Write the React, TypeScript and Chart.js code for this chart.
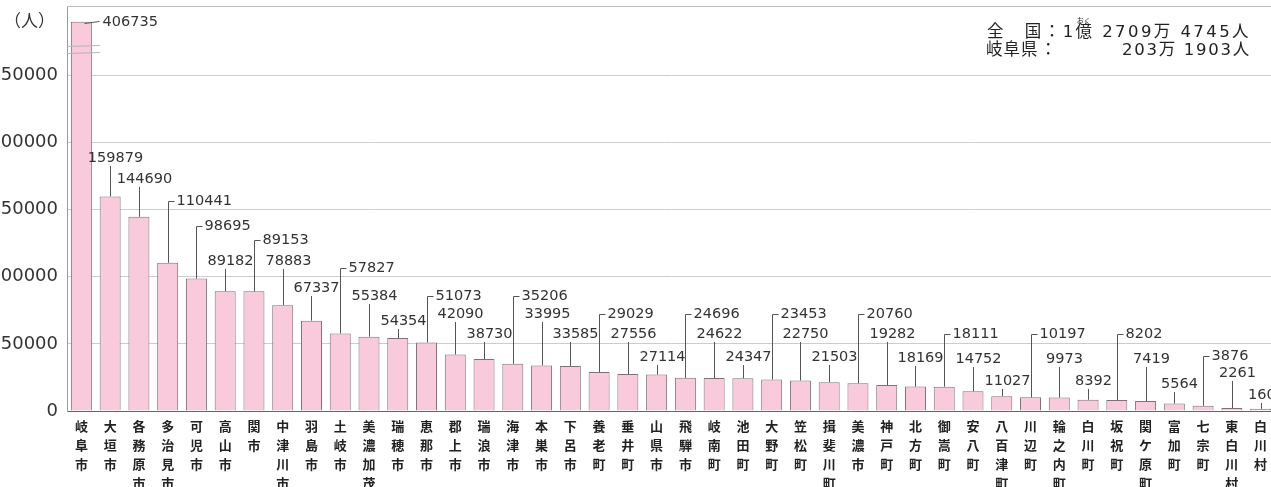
import React, { useEffect, useRef } from "react";
import { Chart, registerables } from "chart.js";

Chart.register(...registerables);

// ---------- data ----------
const MUNICIPALITIES = [
  "岐阜市", "大垣市", "各務原市", "多治見市", "可児市", "高山市", "関市", "中津川市", "羽島市", "土岐市",
  "美濃加茂市", "瑞穂市", "恵那市", "郡上市", "瑞浪市", "海津市", "本巣市", "下呂市", "養老町", "垂井町",
  "山県市", "飛騨市", "岐南町", "池田町", "大野町", "笠松町", "揖斐川町", "美濃市", "神戸町", "北方町",
  "御嵩町", "安八町", "八百津町", "川辺町", "輪之内町", "白川町", "坂祝町", "関ケ原町", "富加町", "七宗町",
  "東白川村", "白川村",
];
const POPULATION = [
  406735, 159879, 144690, 110441, 98695, 89182, 89153, 78883, 67337, 57827,
  55384, 54354, 51073, 42090, 38730, 35206, 33995, 33585, 29029, 27556,
  27114, 24696, 24622, 24347, 23453, 22750, 21503, 20760, 19282, 18169,
  18111, 14752, 11027, 10197, 9973, 8392, 8202, 7419, 5564, 3876,
  2261, 1609,
];
const Y_TICKS = [0, 50000, 100000, 150000, 200000, 250000];
const Y_UNIT = "（人）";
const NATION_LINE = "全　国：1億 2709万 4745人";
const NATION_RUBY = "おく";
const PREF_LABEL = "岐阜県";
const PREF_TOTAL = "203万 1903人";

// ---------- layout (not data) ----------
const AXIS_MAX = 301800;
const AXIS_BREAK = 290000; // bars taller than this are drawn cut (broken axis)
// level (in axis units) at which each value label sits
const LABEL_LEVEL = [
  290000, 188500, 172900, 156500, 137900, 111800, 127400, 111800, 91700, 106600,
  85700, 67100, 85700, 72300, 57400, 85700, 72300, 57400, 72300, 57400,
  40200, 72300, 57400, 40200, 72300, 57400, 40200, 72300, 57400, 39500,
  57400, 38700, 22400, 57400, 38700, 22400, 57400, 38700, 20100, 41000,
  28300, 11900,
];
// s = beside bar top, t = leader with tick, c = centered over leader
const LABEL_STYLE = ("scctt" + "ctcct" + "cctcc" + "tcctc" + "ctcct" + "cctcc" + "tcctc" + "ctcct" + "cc").split("");

const BAR_FILL = "rgb(249,201,220)";
const BAR_EDGE = "rgb(128,112,120)";
const NUM_FONT = '"DejaVu Sans", "Noto Sans CJK JP", sans-serif';
const CJK_FONT = '"Noto Sans CJK JP", sans-serif';

function fitText(ctx: any, text: string, x: number, width: number, y: number) {
  ctx.letterSpacing = "0px";
  const w = ctx.measureText(text).width;
  const n = Array.from(text).length;
  const ls = (width - w) / n;
  ctx.letterSpacing = `${ls}px`;
  ctx.textAlign = "left";
  ctx.fillText(text, x, y);
  ctx.letterSpacing = "0px";
  return ls;
}

const overlay = {
  id: "overlay",
  afterDraw(chart: any) {
    const ctx = chart.ctx as any;
    const area = chart.chartArea;
    const yS = chart.scales.y;
    const meta = chart.getDatasetMeta(0);
    ctx.save();

    // top frame line
    ctx.strokeStyle = "#bdbdbd";
    ctx.lineWidth = 1;
    ctx.beginPath();
    ctx.moveTo(area.left, Math.round(area.top) + 0.5);
    ctx.lineTo(area.right, Math.round(area.top) + 0.5);
    ctx.stroke();

    // broken-axis marks on bars that exceed the break
    POPULATION.forEach((v, i) => {
      if (v <= AXIS_BREAK) return;
      const bar = meta.data[i];
      const half = bar.width / 2;
      ctx.strokeStyle = "#b5b5b5";
      [272000, 267000].forEach((lv) => {
        const y = Math.round(yS.getPixelForValue(lv)) + 0.5;
        ctx.beginPath();
        ctx.moveTo(area.left, y);
        ctx.lineTo(bar.x + half + 8, y - 1);
        ctx.stroke();
      });
    });

    // value labels with leader lines
    ctx.font = `14.5px ${NUM_FONT}`;
    ctx.fillStyle = "#333";
    ctx.strokeStyle = "#555";
    ctx.textBaseline = "middle";
    meta.data.forEach((bar: any, i: number) => {
      const x = Math.round(bar.x) + 0.5;
      const top = bar.y;
      const text = String(POPULATION[i]);
      const st = LABEL_STYLE[i];
      const ly = yS.getPixelForValue(LABEL_LEVEL[i]);
      ctx.beginPath();
      if (st === "s") {
        const yy = Math.round(top) + 0.5;
        ctx.moveTo(x + 3, yy + 1);
        ctx.lineTo(x + 18, yy - 1);
        ctx.stroke();
        ctx.textAlign = "left";
        ctx.fillText(text, x + 21, top);
      } else if (st === "t") {
        const yy = Math.round(ly) + 0.5;
        ctx.moveTo(x, top);
        ctx.lineTo(x, yy);
        ctx.lineTo(x + 6, yy);
        ctx.stroke();
        ctx.textAlign = "left";
        ctx.fillText(text, x + 8, ly);
      } else {
        ctx.moveTo(x, top);
        ctx.lineTo(x, ly + 8);
        ctx.stroke();
        ctx.textAlign = "center";
        ctx.fillText(text, x + 5, ly);
      }
    });

    // unit
    ctx.textAlign = "left";
    ctx.fillStyle = "#333";
    ctx.font = `17px ${CJK_FONT}`;
    ctx.fillText(Y_UNIT, 4, 21);

    // totals box
    ctx.fillStyle = "#222";
    ctx.font = `16.5px ${NUM_FONT}`;
    const ls = fitText(ctx, NATION_LINE, 987, 264, 33);
    // ruby over 億
    const chars = Array.from(NATION_LINE);
    const okuIdx = chars.indexOf("億");
    const pre = chars.slice(0, okuIdx).join("");
    const okuX = 987 + ctx.measureText(pre).width + okuIdx * ls + ctx.measureText("億").width / 2;
    ctx.font = `7px ${CJK_FONT}`;
    ctx.textAlign = "center";
    ctx.fillText(NATION_RUBY, okuX, 20);

    ctx.font = `16.5px ${NUM_FONT}`;
    ctx.textAlign = "left";
    ctx.letterSpacing = "1px";
    ctx.fillText(PREF_LABEL, 986, 51);
    ctx.letterSpacing = "0px";
    ctx.fillText("：", 1040, 51);
    fitText(ctx, PREF_TOTAL, 1122, 129, 51);

    ctx.restore();
  },
};

export default function App() {
  const ref = useRef<HTMLCanvasElement>(null);
  useEffect(() => {
    const canvas = ref.current!;
    const shown = POPULATION.map((v) => Math.min(v, AXIS_BREAK));
    const chart = new Chart(canvas, {
      type: "bar",
      data: {
        labels: MUNICIPALITIES.map((n) => Array.from(n)),
        datasets: [
          {
            data: shown,
            backgroundColor: BAR_FILL,
            borderColor: BAR_EDGE,
            borderWidth: 1,
            borderSkipped: "bottom",
            barPercentage: 0.73,
            categoryPercentage: 1,
          },
        ],
      },
      options: {
        animation: false,
        responsive: false,
        devicePixelRatio: 1,
        layout: { padding: { top: 6, left: 0, right: 0, bottom: 0 } },
        plugins: { legend: { display: false }, tooltip: { enabled: false } },
        scales: {
          x: {
            grid: { display: false, drawTicks: false },
            border: { color: "#666", width: 1 },
            ticks: {
              autoSkip: false,
              maxRotation: 0,
              minRotation: 0,
              padding: 6,
              color: "#222",
              font: { family: CJK_FONT, size: 13, weight: "bold", lineHeight: 19 / 13 },
            },
            afterFit: (s: any) => {
              s.height = 76;
              s.paddingLeft = 0;
              s.paddingRight = 0;
            },
          },
          y: {
            min: 0,
            max: AXIS_MAX,
            afterBuildTicks: (s: any) => {
              s.ticks = Y_TICKS.map((v) => ({ value: v }));
            },
            grid: { color: "#cccccc", drawTicks: false },
            border: { color: "#9a9a9a" },
            ticks: {
              padding: 9,
              color: "#333",
              font: { family: "DejaVu Sans", size: 18 },
              callback: (v: any) => String(v),
            },
            afterFit: (s: any) => {
              s.width = 67;
              s.paddingTop = 0;
              s.paddingBottom = 0;
            },
          },
        },
      } as any,
      plugins: [overlay],
    });
    return () => chart.destroy();
  }, []);

  return (
    <div
      style={{
        position: "fixed",
        left: 0,
        top: 0,
        width: 1271,
        height: 487,
        overflow: "hidden",
        background: "#fff",
      }}
    >
      <canvas ref={ref} width={1275} height={487} style={{ width: 1275, height: 487, display: "block" }} />
    </div>
  );
}
